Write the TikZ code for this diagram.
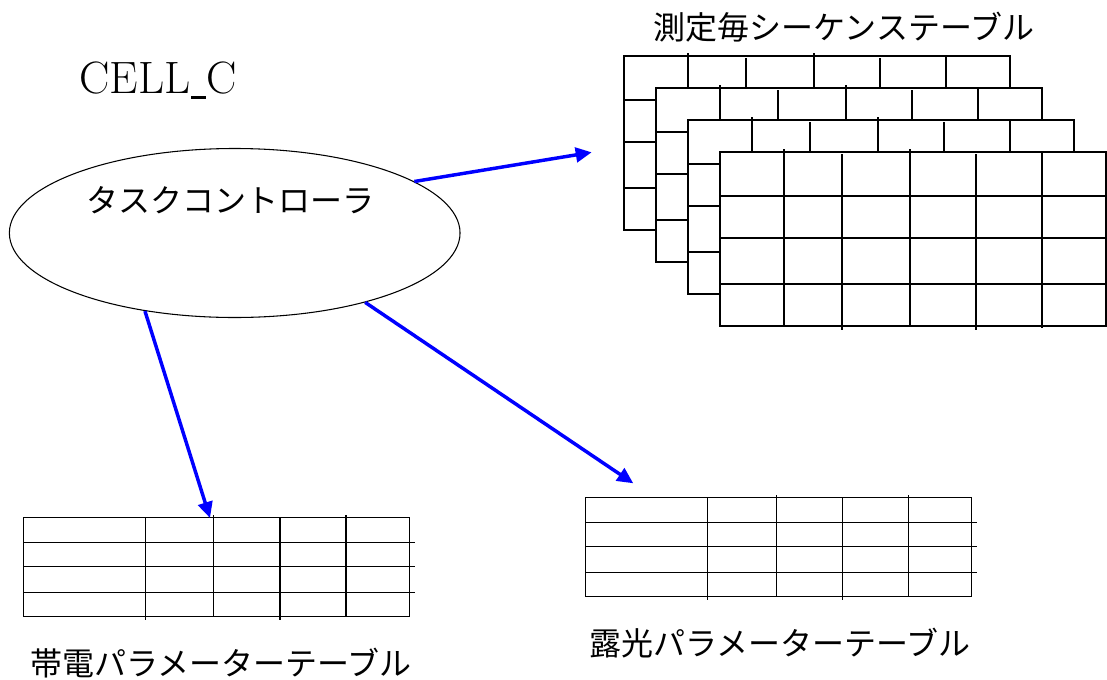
\documentclass[tikz,border=0pt]{standalone}
\usepackage{fontspec}
\newfontfamily\jp{Noto Sans CJK JP}
\usetikzlibrary{shapes.geometric,arrows.meta}
\tikzset{
  tblbox/.style={draw, line width=0.9pt, fill=white, inner sep=0pt, outer sep=0pt,
    anchor=north west, minimum width=289.5pt, minimum height=130.5pt},
  parbox/.style={draw, line width=0.9pt, fill=white, inner sep=0pt, outer sep=0pt,
    anchor=north west, minimum width=289.5pt, minimum height=74.55pt},
  gridln/.style={line width=0.9pt},
  flow/.style={draw=blue, line width=2.6pt, -{Triangle[length=12pt,width=11pt]}},
  jptext/.style={font=\jp\fontsize{24}{28}\selectfont, inner sep=0pt},
  ctrl/.style={draw, ellipse, line width=0.8pt, inner sep=0pt,
    minimum width=338pt, minimum height=126.75pt},
}
\newcommand\stackgrid[1]{%
  \begin{scope}[shift={(#1.north west)}]
    \foreach \c in {64,190} \draw[gridln] (\c,-3) -- (\c,174);
    \foreach \c in {122,256} \draw[gridln] (\c,2) -- (\c,178);
    \draw[gridln] (322,0) -- (322,176);
    \foreach \r in {44,86,132} \draw[gridln] (0,\r) -- (386,\r);
  \end{scope}}
\newcommand\paramgrid[1]{%
  \begin{scope}[shift={(#1.north west)}]
    \foreach \c in {122,256.6} \draw[gridln] (\c,0) -- (\c,102.5);
    \foreach \c in {190.4,322.6} \draw[gridln] (\c,-2) -- (\c,99.4);
    \foreach \r in {25,49.4,75.4} \draw[gridln] (0,\r) -- (391.5,\r);
  \end{scope}}
\begin{document}
\begin{tikzpicture}[x=0.75pt,y=-0.75pt]
  \useasboundingbox (0,0) rectangle (1107,679);

  % stacked sequence tables
  \node[tblbox] (s1) at (624,56) {};
  \stackgrid{s1}
  \node[tblbox] (s2) at (656,88) {};
  \stackgrid{s2}
  \node[tblbox] (s3) at (688,120) {};
  \stackgrid{s3}
  \node[tblbox] (s4) at (720,152) {};
  \stackgrid{s4}

  % parameter tables
  \node[parbox] (pc) at (23.3,517.3) {};
  \paramgrid{pc}
  \node[parbox] (pe) at (585.7,497.3) {};
  \paramgrid{pe}

  % task controller
  \node[ctrl] (tc) at (234.7,233) {};
  \node[jptext] (tclbl) at (230,200) {タスクコントローラ};

  % labels
  \node[font=\fontsize{34}{40}\selectfont, inner sep=0pt, anchor=base] (cell) at (158.3,93.3)
    {CELL\kern0.6pt\rule[-4pt]{11pt}{2pt}\kern0.6ptC};
  \node[jptext] (ts) at (844,27) {測定毎シーケンステーブル};
  \node[jptext] (tcp) at (221,663) {帯電パラメーターテーブル};
  \node[jptext] (tep) at (780,643) {露光パラメーターテーブル};

  % arrows
  \coordinate (a1) at (591.7,152.3);
  \coordinate (a2) at (210,518);
  \coordinate (a3) at (633.3,483.3);
  \draw[flow] (tc.16) -- (a1);
  \draw[flow] (tc.221) -- (a2);
  \draw[flow] (tc.332) -- (a3);
\end{tikzpicture}
\end{document}
